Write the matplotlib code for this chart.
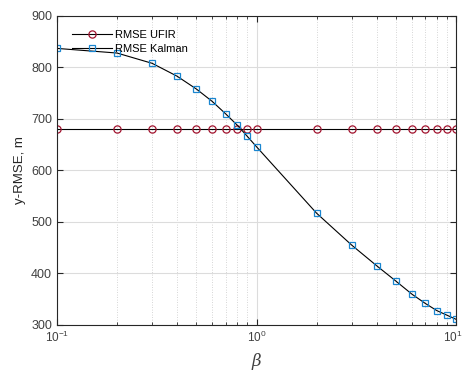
import matplotlib
matplotlib.use("Agg")
import matplotlib.pyplot as plt
import matplotlib.transforms as mtransforms
from matplotlib.ticker import LogLocator, NullFormatter

plt.rcParams['font.family'] = ['Liberation Sans', 'DejaVu Sans']
plt.rcParams['mathtext.fontset'] = 'custom'
plt.rcParams['mathtext.rm'] = 'Liberation Sans'
plt.rcParams['mathtext.it'] = 'DejaVu Serif:italic'

# beta values and RMSE
beta = [0.1, 0.2, 0.3, 0.4, 0.5, 0.6, 0.7, 0.8, 0.9, 1, 2, 3, 4, 5, 6, 7, 8, 9, 10]
rmse_ufir = [681] * len(beta)
rmse_kalman = [837, 828, 808, 783, 758, 734, 710, 688, 666, 646,
               517, 455, 415, 385, 360, 342, 328, 319, 311]
xticks = [0.1, 1, 10]
xticklabels = [r'$10^{-1}$', r'$10^{0}$', r'$10^{1}$']

fig = plt.figure(figsize=(4.64, 3.71), dpi=100)
ax = fig.add_axes([0.1228, 0.124, 0.8602, 0.833])

ax.semilogx(beta, rmse_ufir, '-o', color='black', lw=0.8, ms=5.2,
            mfc='none', mec='#A2142F', mew=0.9, label='RMSE UFIR')
ax.semilogx(beta, rmse_kalman, '-s', color='black', lw=0.8, ms=4.3,
            mfc='none', mec='#1A86D0', mew=0.9, label='RMSE Kalman')

ax.set_xlim(0.1, 10)
ax.set_ylim(300, 900)
ax.set_yticks([300, 400, 500, 600, 700, 800, 900])
ax.set_xticks(xticks, labels=xticklabels)
ax.xaxis.set_minor_locator(LogLocator(base=10, subs=range(2, 10)))
ax.xaxis.set_minor_formatter(NullFormatter())

ax.grid(True, which='major', color='#dcdcdc', lw=0.8)
ax.grid(True, which='minor', axis='x', color='#c8c8c8', lw=0.6, ls=(0, (1, 2)))
ax.set_axisbelow(True)

ax.tick_params(which='both', direction='in', top=True, right=True,
               labelsize=9, colors='#262626', labelcolor='#404040')
ax.tick_params(axis='x', which='major', labelsize=8.5)
ax.tick_params(which='major', length=4)
ax.tick_params(which='minor', length=2.5)
for s in ax.spines.values():
    s.set_color('#262626')
    s.set_linewidth(0.8)

# keep the last x tick label inside the figure
lab = ax.xaxis.get_major_ticks()[-1].label1
lab.set_horizontalalignment('right')
lab.set_transform(lab.get_transform() +
                  mtransforms.ScaledTranslation(6 / 100, 0, fig.dpi_scale_trans))

ax.set_xlabel(r'$\beta$', fontsize=12, color='#404040')
ax.set_ylabel('y-RMSE, m', fontsize=9.5, color='#262626')

ax.legend(loc='upper left', bbox_to_anchor=(0.02, 0.975), frameon=False,
          fontsize=8, handlelength=3.6, handletextpad=0.3,
          labelspacing=0.35, borderaxespad=0.2)

fig.savefig('out.png', dpi=100)
